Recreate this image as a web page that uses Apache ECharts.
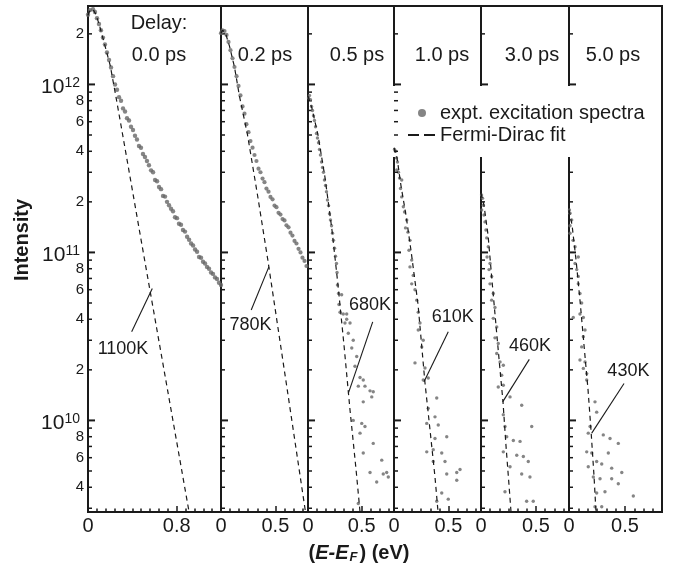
<!DOCTYPE html>
<html>
<head>
<meta charset="utf-8">
<script src="https://cdn.jsdelivr.net/npm/echarts@6/dist/echarts.min.js"></script>
<style>
  html, body { margin: 0; padding: 0; background: #fff; }
  #chart { width: 673px; height: 575px; }
</style>
</head>
<body>
<div id="chart"></div>
<script>
// ---- Panel headings and fitted electron temperatures ----
const delays = ['0.0 ps', '0.2 ps', '0.5 ps', '1.0 ps', '3.0 ps', '5.0 ps'];
const fitTemps = ['1100K', '780K', '680K', '610K', '460K', '430K'];

// ---- Energy axes (eV): extent, labelled step and minor tick step per panel ----
const energyMax = [1.2, 0.8, 0.8, 0.8, 0.8, 0.83];
const energyLabelStep = [0.8, 0.5, 0.5, 0.5, 0.5, 0.5];
const energyMinorStep = [0.08, 1 / 12, 1 / 12, 1 / 12, 1 / 12, 1 / 12];

// ---- Intensity axis (log) ----
const intensityMin = 2.85e9;
const intensityMax = 2.93e12;
const yTickValues = [3e9, 4e9, 5e9, 6e9, 7e9, 8e9, 9e9, 1e10, 2e10, 3e10, 4e10, 5e10, 6e10, 7e10, 8e10, 9e10,
  1e11, 2e11, 3e11, 4e11, 5e11, 6e11, 7e11, 8e11, 9e11, 1e12, 2e12];
const yMajorTicks = [1e10, 1e11, 1e12];
const yLabelValues = [4e9, 6e9, 8e9, 1e10, 2e10, 4e10, 6e10, 8e10, 1e11, 2e11, 4e11, 6e11, 8e11, 1e12, 2e12];
const yLabelTexts = ['4', '6', '8', '10^10', '2', '4', '6', '8', '10^11', '2', '4', '6', '8', '10^12', '2'];

// ---- Measured excitation spectra [E - EF (eV), intensity] ----
const spectra00 = [[0, 2.6e12], [0.018, 2.77e12], [0.045, 2.8e12], [0.063, 2.7e12], [0.081, 2.48e12], [0.099, 2.29e12],
  [0.117, 2.1e12], [0.135, 1.9e12], [0.153, 1.73e12], [0.171, 1.55e12], [0.19, 1.4e12], [0.208, 1.26e12],
  [0.226, 1.12e12], [0.244, 1.0e12], [0.262, 9.3e11], [0.28, 8.4e11], [0.298, 8.0e11], [0.316, 7.2e11],
  [0.334, 6.9e11], [0.352, 6.3e11], [0.37, 6.1e11], [0.388, 5.6e11], [0.406, 5.35e11], [0.424, 4.95e11],
  [0.442, 4.7e11], [0.46, 4.3e11], [0.478, 4.2e11], [0.496, 3.85e11], [0.514, 3.7e11], [0.532, 3.5e11],
  [0.55, 3.3e11], [0.569, 3.08e11], [0.587, 3.0e11], [0.605, 2.7e11], [0.623, 2.65e11], [0.641, 2.45e11],
  [0.659, 2.38e11], [0.677, 2.17e11], [0.695, 2.15e11], [0.713, 2.0e11], [0.731, 1.91e11], [0.749, 1.82e11],
  [0.767, 1.76e11], [0.785, 1.62e11], [0.803, 1.6e11], [0.821, 1.48e11], [0.839, 1.46e11], [0.857, 1.36e11],
  [0.875, 1.33e11], [0.894, 1.24e11], [0.912, 1.19e11], [0.93, 1.13e11], [0.948, 1.1e11], [0.966, 1.04e11],
  [0.984, 1.01e11], [1.002, 9.4e10], [1.02, 9.3e10], [1.038, 8.8e10], [1.056, 8.6e10], [1.074, 8.2e10],
  [1.092, 8.0e10], [1.11, 7.6e10], [1.128, 7.45e10], [1.146, 7.1e10], [1.164, 6.95e10], [1.182, 6.6e10],
  [1.2, 6.4e10]];

const spectra02 = [[0, 2.02e12], [0.014, 2.1e12], [0.032, 2.08e12], [0.051, 1.97e12], [0.069, 1.79e12],
  [0.087, 1.6e12], [0.106, 1.43e12], [0.124, 1.27e12], [0.143, 1.12e12], [0.161, 9.8e11], [0.179, 8.6e11],
  [0.198, 7.4e11], [0.216, 6.7e11], [0.234, 5.8e11], [0.253, 5.2e11], [0.271, 4.6e11], [0.29, 4.2e11],
  [0.308, 3.8e11], [0.326, 3.5e11], [0.345, 3.15e11], [0.363, 3.0e11], [0.382, 2.75e11], [0.4, 2.62e11],
  [0.418, 2.4e11], [0.437, 2.3e11], [0.455, 2.14e11], [0.474, 2.07e11], [0.492, 1.9e11], [0.51, 1.86e11],
  [0.529, 1.72e11], [0.547, 1.68e11], [0.566, 1.58e11], [0.584, 1.55e11], [0.602, 1.45e11], [0.621, 1.41e11],
  [0.639, 1.31e11], [0.657, 1.26e11], [0.676, 1.17e11], [0.694, 1.13e11], [0.713, 1.05e11], [0.731, 1.0e11],
  [0.749, 9.3e10], [0.768, 8.9e10], [0.786, 8.3e10]];

const spectra05 = [[0.005, 8.3e11], [0.014, 8.6e11], [0.023, 8.1e11], [0.033, 7.4e11], [0.042, 7.0e11],
  [0.051, 6.5e11], [0.06, 6.1e11], [0.07, 5.6e11], [0.079, 5.1e11], [0.088, 4.8e11], [0.098, 4.5e11],
  [0.107, 4.1e11], [0.116, 3.8e11], [0.126, 3.45e11], [0.135, 3.2e11], [0.144, 3.0e11], [0.153, 2.7e11],
  [0.163, 2.5e11], [0.172, 2.3e11], [0.181, 2.05e11], [0.191, 1.9e11], [0.2, 1.7e11], [0.209, 1.56e11],
  [0.219, 1.44e11], [0.228, 1.3e11], [0.237, 1.18e11], [0.247, 1.06e11], [0.256, 9.5e10], [0.265, 8.6e10],
  [0.27, 7.6e10], [0.274, 6.4e10], [0.284, 5.7e10], [0.288, 4.9e10], [0.298, 4.4e10], [0.313, 5.6e10],
  [0.328, 4.3e10], [0.36, 4.3e10], [0.36, 4.0e10], [0.344, 3.8e10], [0.391, 3.8e10], [0.375, 3.3e10],
  [0.421, 3.0e10], [0.407, 2.7e10], [0.453, 2.4e10], [0.437, 2.1e10], [0.484, 1.8e10], [0.514, 1.74e10],
  [0.468, 1.6e10], [0.53, 1.6e10], [0.577, 1.5e10], [0.607, 1.48e10], [0.593, 1.38e10], [0.514, 1.29e10],
  [0.421, 1.0e10], [0.5, 9.6e9], [0.53, 9.2e9], [0.484, 8.4e9], [0.607, 7.3e9], [0.514, 6.4e9],
  [0.686, 5.8e9], [0.577, 4.9e9], [0.732, 4.9e9], [0.7, 4.8e9], [0.639, 4.3e9], [0.747, 4.6e9], [0.468, 3.2e9]];

const spectra10 = [[0.005, 4.1e11], [0.014, 4.0e11], [0.023, 3.65e11], [0.032, 3.45e11], [0.025, 3.1e11],
  [0.041, 3.0e11], [0.051, 2.77e11], [0.071, 2.7e11], [0.06, 2.4e11], [0.071, 2.14e11], [0.086, 1.87e11],
  [0.097, 1.74e11], [0.117, 1.56e11], [0.106, 1.4e11], [0.129, 1.32e11], [0.147, 1.18e11], [0.138, 1.03e11],
  [0.163, 9.0e10], [0.147, 8.2e10], [0.177, 7.3e10], [0.163, 6.5e10], [0.193, 6.0e10], [0.209, 5.2e10],
  [0.223, 4.4e10], [0.239, 3.8e10], [0.223, 3.45e10], [0.269, 3.0e10], [0.255, 2.74e10], [0.193, 2.2e10],
  [0.285, 2.05e10], [0.269, 1.74e10], [0.315, 1.79e10], [0.393, 1.36e10], [0.315, 1.18e10], [0.377, 1.05e10],
  [0.301, 9.6e9], [0.407, 9.4e9], [0.485, 8.0e9], [0.377, 7.8e9], [0.301, 6.5e9], [0.361, 6.7e9],
  [0.439, 6.4e9], [0.469, 5.7e9], [0.361, 5.7e9], [0.485, 4.8e9], [0.577, 4.9e9], [0.607, 5.1e9],
  [0.577, 4.4e9], [0.439, 3.7e9], [0.499, 3.4e9], [0.393, 3.3e9]];

const spectra30 = [[0.005, 2.2e11], [0.014, 2.1e11], [0.006, 1.79e11], [0.021, 1.91e11], [0.027, 1.67e11],
  [0.036, 1.52e11], [0.045, 1.36e11], [0.052, 1.22e11], [0.066, 1.08e11], [0.055, 9.4e10], [0.082, 8.6e10],
  [0.073, 7.9e10], [0.097, 7.2e10], [0.082, 6.5e10], [0.112, 5.7e10], [0.097, 5.2e10], [0.127, 4.7e10],
  [0.112, 4.05e10], [0.143, 3.6e10], [0.127, 3.1e10], [0.157, 2.87e10], [0.143, 2.5e10], [0.173, 2.23e10],
  [0.203, 2.13e10], [0.188, 1.86e10], [0.157, 1.58e10], [0.203, 1.62e10], [0.264, 1.38e10], [0.37, 1.23e10],
  [0.203, 1.08e10], [0.218, 9.2e9], [0.461, 9.2e9], [0.234, 8.0e9], [0.294, 7.6e9], [0.355, 7.5e9],
  [0.203, 6.5e9], [0.325, 6.2e9], [0.385, 6.1e9], [0.43, 5.7e9], [0.264, 5.3e9], [0.37, 4.8e9],
  [0.445, 4.6e9], [0.218, 3.76e9], [0.415, 3.3e9], [0.475, 3.3e9]];

const spectra50 = [[0.004, 1.79e11], [0.009, 1.71e11], [0.024, 1.56e11], [0.009, 1.44e11], [0.009, 1.3e11],
  [0.036, 1.18e11], [0.054, 1.08e11], [0.083, 9.4e10], [0.054, 8.6e10], [0.069, 7.9e10], [0.083, 7.2e10],
  [0.083, 6.5e10], [0.098, 5.7e10], [0.113, 5.0e10], [0.098, 4.3e10], [0.038, 4.1e10], [0.128, 4.1e10],
  [0.143, 3.45e10], [0.128, 3.15e10], [0.113, 2.74e10], [0.098, 2.29e10], [0.143, 2.23e10], [0.128, 2.04e10],
  [0.158, 1.9e10], [0.158, 1.74e10], [0.232, 1.29e10], [0.247, 1.12e10], [0.188, 9.2e9], [0.172, 8.4e9],
  [0.306, 8.2e9], [0.366, 7.8e9], [0.44, 7.3e9], [0.158, 6.5e9], [0.203, 6.4e9], [0.351, 6.4e9],
  [0.247, 5.7e9], [0.292, 5.5e9], [0.172, 5.3e9], [0.381, 5.2e9], [0.471, 4.9e9], [0.217, 4.6e9],
  [0.277, 4.5e9], [0.381, 4.5e9], [0.44, 4.2e9], [0.321, 3.76e9], [0.247, 3.7e9], [0.574, 3.55e9],
  [0.232, 3.06e9], [0.292, 3.06e9]];

// ---- Fermi-Dirac fits [E - EF (eV), intensity] ----
const fit00 = [[0, 2.59e12], [0.02, 2.77e12], [0.045, 2.8e12], [0.07, 2.62e12], [0.1, 2.29e12], [0.15, 1.73e12],
  [0.2, 1.3e12], [0.25, 8.6e11], [0.3, 5.6e11], [0.5, 9.9e10], [0.7, 1.77e10], [0.912, 2.85e9]];
const fit02 = [[0, 2.02e12], [0.014, 2.1e12], [0.041, 2.02e12], [0.078, 1.69e12], [0.124, 1.27e12],
  [0.17, 8.5e11], [0.244, 5.0e11], [0.336, 2.19e11], [0.428, 9.25e10], [0.603, 1.62e10], [0.777, 2.85e9]];
const fit05 = [[0, 8.5e11], [0.037, 7.2e11], [0.093, 5.0e11], [0.158, 2.8e11], [0.223, 1.36e11],
  [0.279, 6.4e10], [0.335, 2.8e10], [0.391, 1.15e10], [0.447, 5.1e9], [0.484, 2.85e9]];
const fit10 = [[0, 4.2e11], [0.028, 3.65e11], [0.064, 2.5e11], [0.11, 1.67e11], [0.156, 1.03e11],
  [0.221, 4.9e10], [0.285, 1.67e10], [0.331, 8.8e9], [0.377, 4.6e9], [0.405, 2.85e9]];
const fit30 = [[0, 2.25e11], [0.027, 1.91e11], [0.064, 1.27e11], [0.1, 6.8e10], [0.136, 3.7e10],
  [0.173, 2.0e10], [0.2, 1.29e10], [0.227, 7.1e9], [0.255, 4.1e9], [0.273, 2.85e9]];
const fit50 = [[0, 1.79e11], [0.027, 1.46e11], [0.063, 9.0e10], [0.098, 5.2e10], [0.134, 2.8e10],
  [0.17, 1.52e10], [0.196, 8.8e9], [0.223, 4.7e9], [0.241, 2.85e9]];

// ---- Temperature call-outs: pointer start (on the fit), pointer end, label anchor ----
const pointerFrom = [[0.58, 6.1e10], [0.44, 8.2e10], [0.375, 1.45e10], [0.276, 1.7e10], [0.197, 1.29e10], [0.203, 8.4e9]];
const pointerTo = [[0.394, 3.37e10], [0.278, 4.54e10], [0.602, 3.86e10], [0.499, 3.37e10], [0.439, 2.31e10], [0.491, 1.66e10]];
const tempLabelAt = [[0.316, 2.66e10], [0.271, 3.69e10], [0.577, 4.86e10], [0.54, 4.12e10], [0.445, 2.77e10], [0.53, 1.97e10]];

const spectra = [spectra00, spectra02, spectra05, spectra10, spectra30, spectra50];
const fits = [fit00, fit02, fit05, fit10, fit30, fit50];

// ---- Layout and style ----
const panelLeft = [88, 221, 308, 394, 481, 569];
const panelWidth = [133, 87, 86, 87, 88, 93];
const titleCenters = [159, 265, 357, 442, 532, 613];
const dotSize = [4.4, 4.2, 3.4, 3.4, 3.4, 3.4];
const FONT = '"Liberation Sans", Arial, Helvetica, sans-serif';
const INK = '#1a1a1a';
const DOT = '#666666';
const SPECTRA_NAME = 'expt. excitation spectra';
const FIT_NAME = 'Fermi-Dirac fit';

const labelFor = new Map(yLabelValues.map((v, k) => [v, yLabelTexts[k]]));

// Inward ticks on the left edge of a panel (with labels on the first panel)
function tickRenderer(withLabels) {
  return function (params, api) {
    const v = yTickValues[params.dataIndex];
    const p = api.coord([0, v]);
    const major = yMajorTicks.indexOf(v) >= 0;
    const len = major ? 7 : 4;
    const children = [{
      type: 'line',
      shape: { x1: p[0], y1: p[1], x2: p[0] + len, y2: p[1] },
      style: { stroke: INK, lineWidth: major ? 2 : 1.5 }
    }];
    const txt = withLabels ? labelFor.get(v) : undefined;
    if (txt !== undefined) {
      if (txt.indexOf('^') >= 0) {
        const parts = txt.split('^');
        children.push({
          type: 'text',
          x: p[0] - 8, y: p[1] + 3,
          style: {
            text: '{b|' + parts[0] + '}{s|' + parts[1] + '}',
            align: 'right', verticalAlign: 'middle', fill: INK,
            fontFamily: FONT, fontSize: 21,
            rich: {
              b: { fontSize: 21, fontFamily: FONT, fill: INK },
              s: { fontSize: 14, fontFamily: FONT, fill: INK, verticalAlign: 'top', padding: [0, 0, 9, 0] }
            }
          }
        });
      } else {
        children.push({
          type: 'text',
          x: p[0] - 4, y: p[1],
          style: { text: txt, align: 'right', verticalAlign: 'middle', fill: INK, fontFamily: FONT, fontSize: 15 }
        });
      }
    }
    return { type: 'group', children: children };
  };
}

// Pointer line from the fit to the temperature label
function calloutRenderer(panel) {
  return function (params, api) {
    const a = api.coord(pointerFrom[panel]);
    const b = api.coord(pointerTo[panel]);
    const t = api.coord(tempLabelAt[panel]);
    return {
      type: 'group',
      children: [
        { type: 'line', shape: { x1: a[0], y1: a[1], x2: b[0], y2: b[1] }, style: { stroke: INK, lineWidth: 1.1 } },
        { type: 'text', x: t[0], y: t[1],
          style: { text: fitTemps[panel], fontFamily: FONT, fontSize: 18, fill: INK, align: 'center', verticalAlign: 'middle' } }
      ]
    };
  };
}

const grid = [], xAxis = [], yAxis = [], series = [];
for (let i = 0; i < 6; i++) {
  grid.push({
    left: panelLeft[i], top: 6, width: panelWidth[i], height: 506,
    show: true, borderColor: INK, borderWidth: 2, backgroundColor: 'transparent',
    containLabel: false, outerBoundsMode: 'none'
  });
  // labelled axis (also carries the data)
  xAxis.push({
    type: 'value', gridIndex: i, min: 0, max: energyMax[i], interval: energyLabelStep[i], position: 'bottom',
    axisLine: { show: false, onZero: false },
    axisTick: { show: true, inside: true, length: 6, lineStyle: { color: INK, width: 1.5 } },
    axisLabel: {
      show: true, margin: 4, fontSize: 20, fontFamily: FONT, color: INK, showMaxLabel: false,
      formatter: v => (v === 0 ? '0' : v.toFixed(1))
    },
    splitLine: { show: false }
  });
  // minor tick axis
  xAxis.push({
    type: 'value', gridIndex: i, min: 0, max: energyMax[i], interval: energyMinorStep[i], position: 'bottom',
    axisLine: { show: false, onZero: false },
    axisTick: { show: true, inside: true, length: 3.5, lineStyle: { color: INK, width: 1.5 } },
    axisLabel: { show: false },
    splitLine: { show: false }
  });
  yAxis.push({
    type: 'log', logBase: 10, gridIndex: i, min: intensityMin, max: intensityMax,
    axisLine: { show: false }, axisTick: { show: false }, axisLabel: { show: false }, splitLine: { show: false }
  });

  const xi = i * 2;
  series.push({
    name: SPECTRA_NAME, type: 'scatter', xAxisIndex: xi, yAxisIndex: i,
    data: spectra[i], symbol: 'circle', symbolSize: dotSize[i],
    itemStyle: { color: DOT }, z: 2, silent: true
  });
  series.push({
    name: FIT_NAME, type: 'line', xAxisIndex: xi, yAxisIndex: i,
    data: fits[i], symbol: 'none', smooth: false,
    lineStyle: { color: INK, width: 1.2, type: [5, 4] }, itemStyle: { color: INK }, z: 3, silent: true
  });
  series.push({
    type: 'custom', xAxisIndex: xi, yAxisIndex: i,
    data: [[pointerFrom[i][0], pointerFrom[i][1]]],
    renderItem: calloutRenderer(i), z: 4, silent: true, clip: false
  });
  series.push({
    type: 'custom', xAxisIndex: xi, yAxisIndex: i,
    data: yTickValues.map(v => [0, v]),
    renderItem: tickRenderer(i === 0),
    z: i === 3 ? 3 : 0.5, silent: true, clip: false
  });
}

const graphic = [
  { type: 'rect', z: 1, silent: true, shape: { x: 393, y: 86, width: 266, height: 71 }, style: { fill: '#fff' } },
  { type: 'text', x: titleCenters[0], y: 23, silent: true,
    style: { text: 'Delay:', fontFamily: FONT, fontSize: 20, fill: INK, align: 'center', verticalAlign: 'middle' } },
  { type: 'text', x: 22, y: 240, rotation: Math.PI / 2, silent: true,
    style: { text: 'Intensity', fontFamily: FONT, fontSize: 20, fontWeight: 'bold', fill: INK, align: 'center', verticalAlign: 'middle' } },
  { type: 'text', x: 359, y: 553, silent: true,
    style: {
      text: '{p|(}{i|E-E}{f|F}{p|) (eV)}', align: 'center', verticalAlign: 'middle', fill: INK,
      fontFamily: FONT, fontSize: 20, fontWeight: 'bold',
      rich: {
        p: { fontFamily: FONT, fontSize: 20, fontWeight: 'bold', fill: INK },
        i: { fontFamily: FONT, fontSize: 20, fontWeight: 'bold', fontStyle: 'italic', fill: INK },
        f: { fontFamily: FONT, fontSize: 13, fontWeight: 'bold', fontStyle: 'italic', fill: INK,
             verticalAlign: 'bottom', padding: [8, 2, 0, 1] }
      }
    } }
];
delays.forEach((d, i) => {
  graphic.push({ type: 'text', x: titleCenters[i], y: 55, silent: true,
    style: { text: d, fontFamily: FONT, fontSize: 20, fill: INK, align: 'center', verticalAlign: 'middle' } });
});

const legendText = { fontSize: 20, fontFamily: FONT, color: INK, lineHeight: 22 };
const option = {
  animation: false,
  backgroundColor: '#fff',
  grid: grid,
  xAxis: xAxis,
  yAxis: yAxis,
  legend: [
    { data: [SPECTRA_NAME], orient: 'vertical', left: 418, top: 102, padding: 0, itemWidth: 8, itemHeight: 8,
      icon: 'circle', selectedMode: false, textStyle: Object.assign({ padding: [0, 0, 0, 9] }, legendText) },
    { data: [FIT_NAME], orient: 'vertical', left: 408, top: 124, padding: 0, itemWidth: 27, itemHeight: 2,
      icon: 'path://M0,0H11V2H0Z M16,0H27V2H16Z', selectedMode: false, textStyle: legendText,
      itemStyle: { color: INK } }
  ],
  graphic: graphic,
  series: series
};

const chart = echarts.init(document.getElementById('chart'));
chart.setOption(option);
</script>
</body>
</html>
